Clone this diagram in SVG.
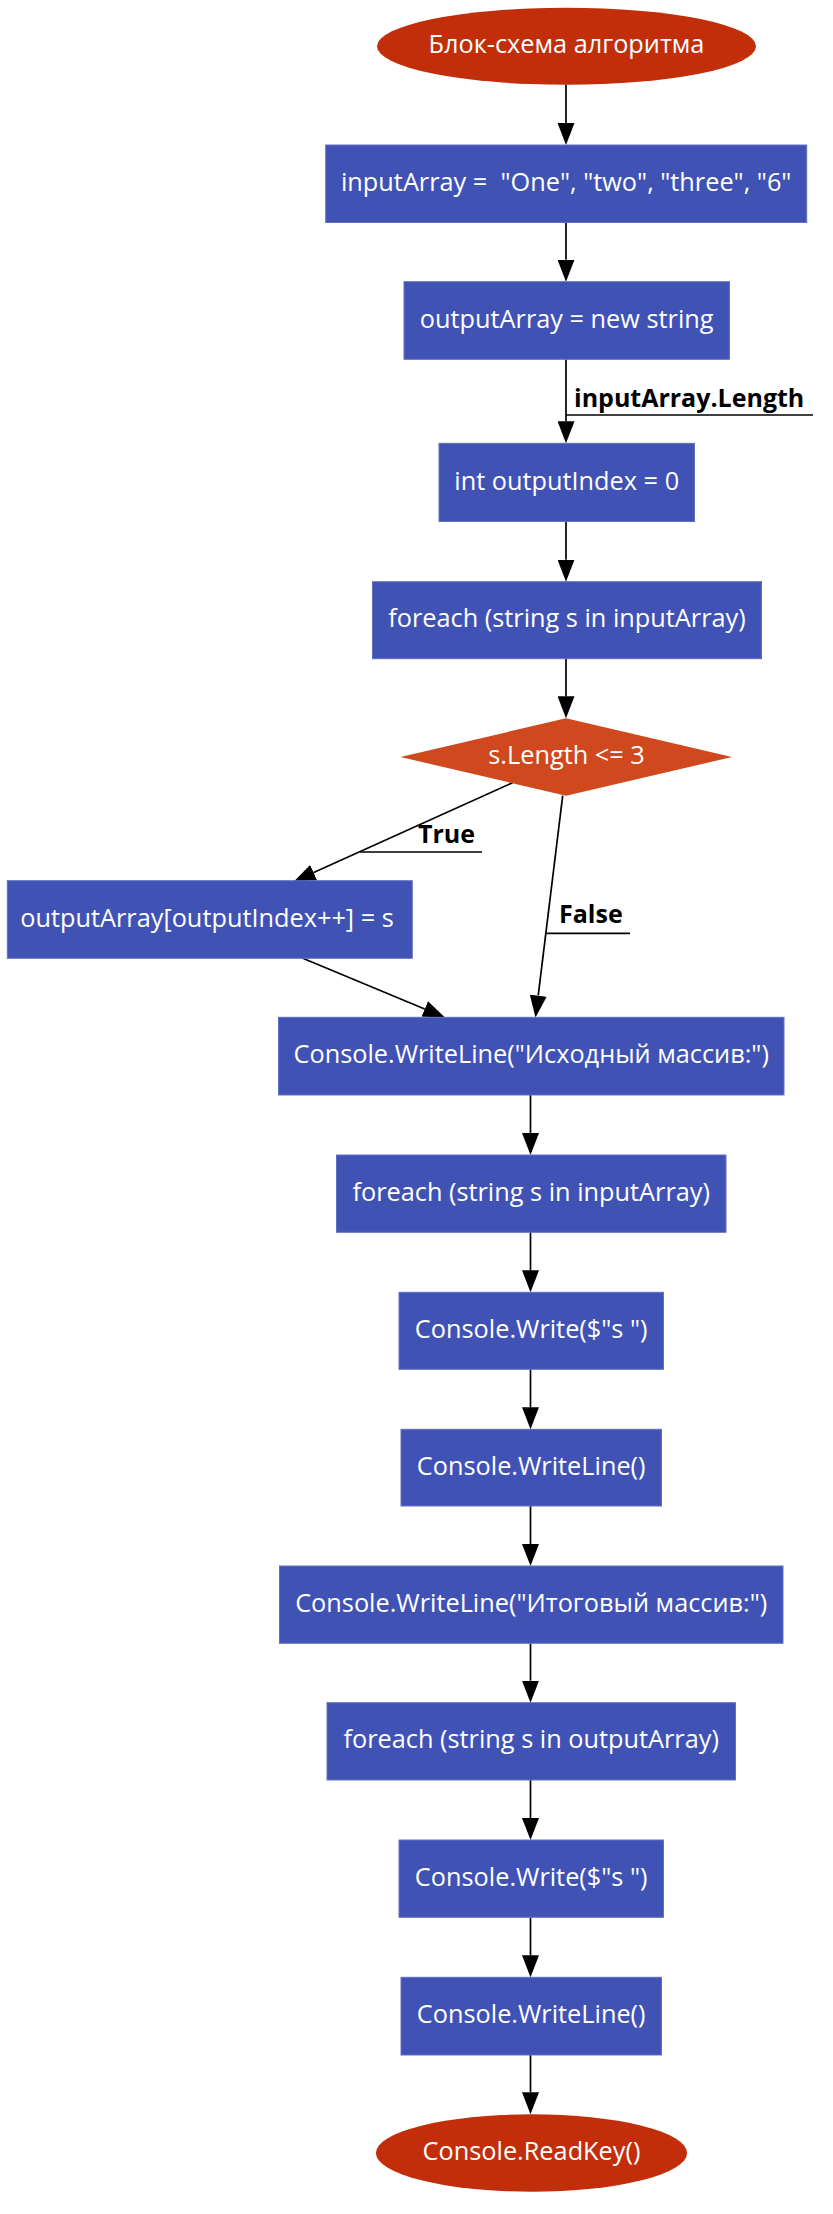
<svg xmlns="http://www.w3.org/2000/svg" width="833" height="2214" viewBox="0 0 833 2214">
<style>
.box{fill:#4152b5;stroke:#6270c6;stroke-width:1}
.term{fill:#c22e0a}
.dec{fill:#d0481e}
.t{font-family:"Open Sans","Liberation Sans",sans-serif;font-size:25.3px;fill:#ffffff;text-anchor:middle;white-space:pre}
.lbl{font-family:"Open Sans","Liberation Sans",sans-serif;font-size:25px;font-weight:bold;fill:#000000}
.e{fill:none;stroke:#000000;stroke-width:1.7}
</style>
<defs>
<marker id="ah" viewBox="0 0 22 17" markerWidth="22" markerHeight="17" refX="0" refY="8.5" markerUnits="userSpaceOnUse" orient="auto">
<path d="M0,0 L22,8.5 L0,17 z" fill="#000000"/>
</marker>
</defs>
<rect width="833" height="2214" fill="#ffffff"/>
<g id="connectors">
<line class="e" x1="566" y1="84.5" x2="566" y2="123" marker-end="url(#ah)"/>
<line class="e" x1="566" y1="222.7" x2="566" y2="259.7" marker-end="url(#ah)"/>
<line class="e" x1="566" y1="359.3" x2="566" y2="421.3" marker-end="url(#ah)"/>
<line class="e" x1="566" y1="415" x2="813" y2="415"/>
<text class="lbl" x="574" y="406.7">inputArray.Length</text>
<line class="e" x1="566" y1="521.7" x2="566" y2="559.7" marker-end="url(#ah)"/>
<line class="e" x1="566" y1="658.3" x2="566" y2="696.3" marker-end="url(#ah)"/>
<line class="e" x1="512.6" y1="782.7" x2="313.7" y2="872.6" marker-end="url(#ah)"/>
<line class="e" x1="360" y1="852" x2="482" y2="852"/>
<text class="lbl" x="418" y="842.7">True</text>
<line class="e" x1="562.7" y1="795.7" x2="538.2" y2="995.7" marker-end="url(#ah)"/>
<line class="e" x1="546.5" y1="933.3" x2="630" y2="933.3"/>
<text class="lbl" x="559" y="923.3">False</text>
<line class="e" x1="301.6" y1="957.7" x2="424.7" y2="1009" marker-end="url(#ah)"/>
<line class="e" x1="530.5" y1="1095" x2="530.5" y2="1133" marker-end="url(#ah)"/>
<line class="e" x1="530.5" y1="1232.3" x2="530.5" y2="1270.3" marker-end="url(#ah)"/>
<line class="e" x1="530.5" y1="1369.3" x2="530.5" y2="1407.3" marker-end="url(#ah)"/>
<line class="e" x1="530.5" y1="1506" x2="530.5" y2="1544" marker-end="url(#ah)"/>
<line class="e" x1="530.5" y1="1643.3" x2="530.5" y2="1680.7" marker-end="url(#ah)"/>
<line class="e" x1="530.5" y1="1780" x2="530.5" y2="1818" marker-end="url(#ah)"/>
<line class="e" x1="530.5" y1="1917.3" x2="530.5" y2="1955.3" marker-end="url(#ah)"/>
<line class="e" x1="530.5" y1="2055" x2="530.5" y2="2092.3" marker-end="url(#ah)"/>
</g>
<g id="start">
<ellipse class="term" cx="566.5" cy="46.3" rx="189.5" ry="38.5"/>
<text class="t" x="566.5" y="53.3">Блок-схема алгоритма</text>
</g>
<g id="n1">
<rect class="box" x="325.7" y="145" width="481" height="77.5"/>
<text class="t" x="566.2" y="190.5" xml:space="preserve">inputArray =  "One", "two", "three", "6"</text>
</g>
<g id="n2">
<rect class="box" x="404" y="281.7" width="325.5" height="77.6"/>
<text class="t" x="566.7" y="327.5">outputArray = new string</text>
</g>
<g id="n3">
<rect class="box" x="439" y="443.3" width="255.5" height="78.2"/>
<text class="t" x="566.7" y="489.5">int outputIndex = 0</text>
</g>
<g id="n4">
<rect class="box" x="372.5" y="581.7" width="389" height="77"/>
<text class="t" x="567" y="627">foreach (string s in inputArray)</text>
</g>
<g id="n5">
<polygon class="dec" points="566,718.3 732,757 566,795.7 400.5,757"/>
<text class="t" x="566.5" y="764">s.Length &lt;= 3</text>
</g>
<g id="n6">
<rect class="box" x="7.3" y="880.7" width="405" height="77.6"/>
<text class="t" x="207" y="926.7">outputArray[outputIndex++] = s</text>
</g>
<g id="n7">
<rect class="box" x="278.5" y="1017.3" width="505.5" height="77.7"/>
<text class="t" x="531.2" y="1063.2">Console.WriteLine("Исходный массив:")</text>
</g>
<g id="n8">
<rect class="box" x="336.5" y="1155" width="389.5" height="77.3"/>
<text class="t" x="531.2" y="1200.7">foreach (string s in inputArray)</text>
</g>
<g id="n9">
<rect class="box" x="399" y="1292.3" width="264.5" height="77"/>
<text class="t" x="531.2" y="1337.8">Console.Write($"s ")</text>
</g>
<g id="n10">
<rect class="box" x="401" y="1429.3" width="260.5" height="76.7"/>
<text class="t" x="531.2" y="1474.7">Console.WriteLine()</text>
</g>
<g id="n11">
<rect class="box" x="279.5" y="1566" width="503.5" height="77.3"/>
<text class="t" x="531.2" y="1611.7">Console.WriteLine("Итоговый массив:")</text>
</g>
<g id="n12">
<rect class="box" x="327" y="1702.7" width="408.5" height="77.3"/>
<text class="t" x="531.2" y="1748.4">foreach (string s in outputArray)</text>
</g>
<g id="n13">
<rect class="box" x="399" y="1840" width="264.5" height="77.3"/>
<text class="t" x="531.2" y="1885.7">Console.Write($"s ")</text>
</g>
<g id="n14">
<rect class="box" x="401" y="1977.3" width="260.5" height="77.7"/>
<text class="t" x="531.2" y="2023.2">Console.WriteLine()</text>
</g>
<g id="end">
<ellipse class="term" cx="531.5" cy="2153" rx="155.6" ry="38.7"/>
<text class="t" x="531.5" y="2160">Console.ReadKey()</text>
</g>
</svg>
